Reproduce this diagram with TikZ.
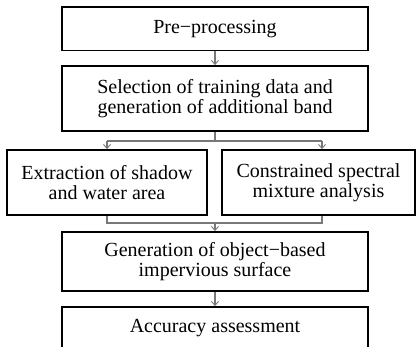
\documentclass[tikz,border=0pt]{standalone}
\usepackage{fontspec}
\setmainfont{Liberation Serif}
\usetikzlibrary{arrows.meta}
\definecolor{linkgray}{RGB}{120,120,120}
\begin{document}
\begin{tikzpicture}[x=1pt,y=-1pt,
  stepbox/.style={draw=black,line width=1.8pt,rectangle,inner sep=0pt,
    align=center,font=\fontsize{20}{20}\selectfont},
  link/.style={draw=linkgray,line width=1.1pt},
  linkarrow/.style={link,-{Straight Barb[length=4pt,width=7pt,line width=0.9pt]}}]
\useasboundingbox (0,0) rectangle (417,347);
% process boxes
\node[stepbox,minimum width=306pt,minimum height=43.5pt] (b1) at (215,28.7) {Pre−processing};
\node[stepbox,minimum width=306pt,minimum height=65pt] (b2) at (215,98.5)
  {Selection of training data and\\generation of additional band};
\node[stepbox,minimum width=200pt,minimum height=65pt] (b3) at (107,182.5)
  {Extraction of shadow\\and water area};
\node[stepbox,minimum width=193pt,minimum height=65pt] (b4) at (318.5,182.5)
  {Constrained spectral\\mixture analysis};
\node[stepbox,minimum width=306pt,minimum height=59pt] (b5) at (215,261.5)
  {Generation of object−based\\impervious surface};
\node[stepbox,minimum width=306pt,minimum height=43pt] (b6) at (215,328.5)
  {Accuracy assessment};
% split and merge points
\coordinate (sL) at (107,141);
\coordinate (sR) at (322,141);
\coordinate (mL) at (107,223);
\coordinate (mR) at (322,223);
% connectors
\draw[linkarrow] (b1) -- (b2);
\draw[link] (b2.south) -- (b2.south |- sL);
\draw[link] (sL) -- (sR);
\draw[linkarrow] (sL) -- (sL |- b3.north);
\draw[linkarrow] (sR) -- (sR |- b4.north);
\draw[link] (mL |- b3.south) -- (mL) -- (mR) -- (mR |- b4.south);
\draw[linkarrow] (b5.north |- mL) -- (b5.north);
\draw[linkarrow] (b5) -- (b6);
\end{tikzpicture}
\end{document}
